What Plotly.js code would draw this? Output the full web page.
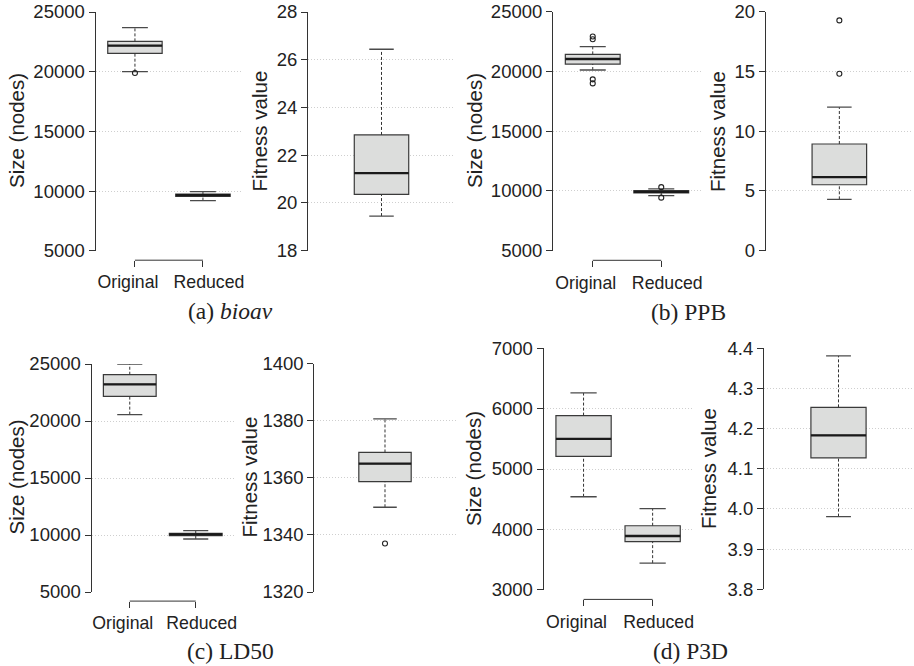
<!DOCTYPE html>
<html><head><meta charset="utf-8">
<script src="https://cdn.plot.ly/plotly-3.0.1.min.js"></script>
<style>html,body{margin:0;padding:0;background:#fff}#chart{width:914px;height:666px}</style>
</head><body><div id="chart"></div>
<script>
const W = 914, H = 666;

// ---------- data (five-number summaries: lower whisker, Q1, median, Q3, upper whisker) ----------
const sizeGroups = ["Original", "Reduced"];

const bioavSizeOriginal = [20000, 21540, 22180, 22540, 23690];
const bioavSizeReduced  = [9200, 9550, 9650, 9750, 9950];
const bioavSizeOriginalOutliers = [19890];
const bioavSizeReducedOutliers  = [];
const bioavFitness = [19.45, 20.36, 21.25, 22.85, 26.44];
const bioavFitnessOutliers = [];

const ppbSizeOriginal = [20120, 20620, 21040, 21430, 22070];
const ppbSizeReduced  = [9610, 9830, 9920, 10020, 10170];
const ppbSizeOriginalOutliers = [22930, 22690, 19340, 19000];
const ppbSizeReducedOutliers  = [10320, 9440];
const ppbFitness = [4.30, 5.52, 6.16, 8.93, 12.02];
const ppbFitnessOutliers = [14.81, 19.27];

const ld50SizeOriginal = [20560, 22160, 23220, 24060, 25000];
const ld50SizeReduced  = [9650, 9950, 10050, 10150, 10380];
const ld50SizeOriginalOutliers = [];
const ld50SizeReducedOutliers  = [];
const ld50Fitness = [1349.7, 1358.7, 1365.0, 1368.9, 1380.7];
const ld50FitnessOutliers = [1337.0];

const p3dSizeOriginal = [4540, 5210, 5500, 5885, 6260];
const p3dSizeReduced  = [3440, 3795, 3890, 4060, 4342];
const p3dSizeOriginalOutliers = [];
const p3dSizeReducedOutliers  = [];
const p3dFitness = [3.981, 4.127, 4.183, 4.253, 4.381];
const p3dFitnessOutliers = [];

// tick values
const sizeTicksLarge = [5000, 10000, 15000, 20000, 25000];
const sizeTicksP3D = [3000, 4000, 5000, 6000, 7000];
const bioavFitTicks = [18, 20, 22, 24, 26, 28];
const ppbFitTicks = [0, 5, 10, 15, 20];
const ld50FitTicks = [1320, 1340, 1360, 1380, 1400];
const p3dFitTicks = [3.8, 3.9, 4.0, 4.1, 4.2, 4.3, 4.4];

const captions = ["(a) <i>bioav</i>", "(b) PPB", "(c) LD50", "(d) P3D"];
const sizeTitle = "Size (nodes)";
const fitTitle = "Fitness value";

// ---------- build ----------
const data = [], annotations = [], shapes = [];
const layout = {
  width: W, height: H, margin: {l: 0, r: 0, t: 0, b: 0},
  paper_bgcolor: '#fff', plot_bgcolor: '#fff', showlegend: false, boxmode: 'overlay',
  font: {family: '"Liberation Sans", Arial, sans-serif', color: '#222', size: 18},
  hovermode: false
};
const fx = p => p / W;
const fy = p => 1 - p / H;
const labelShift = [-7, 6];
let helperAxis = 9;

function panel(n, g, boxes, outs, cats, ticks, fmt, title) {
  const xs = n === 1 ? 'x' : 'x' + n, ys = n === 1 ? 'y' : 'y' + n;
  const xk = n === 1 ? 'xaxis' : 'xaxis' + n, yk = n === 1 ? 'yaxis' : 'yaxis' + n;
  const pos = boxes.map((b, i) => i);
  const pair = boxes.length > 1;
  const bw = pair ? 0.8 : 0.4, cap = pair ? 0.19 : 0.09;
  const yr = [ticks[0], ticks[ticks.length - 1]];
  const xr = pair ? [-0.58, 1.58] : [-0.54, 0.54];

  layout[yk] = {
    domain: [fy(g.yb), fy(g.yt)], anchor: xs, range: yr, tickvals: ticks,
    tickformat: fmt, showline: true, linecolor: '#333', linewidth: 1,
    ticks: 'outside', ticklen: 6, tickcolor: '#333', tickwidth: 1,
    showgrid: true, gridcolor: '#cfcfcf', griddash: '1px,2px', gridwidth: 1,
    zeroline: false, tickfont: {size: 18.5, color: '#222'}, fixedrange: true
  };
  if (pair) {
    layout[xk] = {
      domain: [fx(g.xl), fx(g.xr)], anchor: 'free', position: fy(g.xb),
      range: xr, tickvals: pos, ticktext: cats, showticklabels: false,
      showline: false, showgrid: false, zeroline: false,
      ticks: 'outside', ticklen: 6, tickcolor: '#333', tickwidth: 1, fixedrange: true
    };
    shapes.push({type: 'line', xref: xs, yref: 'paper', x0: pos[0], x1: pos[pos.length - 1],
      y0: fy(g.xb), y1: fy(g.xb), line: {color: '#333', width: 1}});
    // one label axis per category so each label can sit like the original figure
    cats.forEach((c, i) => {
      const hn = helperAxis++;
      layout['xaxis' + hn] = {
        overlaying: xs, anchor: 'free', position: fy(g.xb), range: xr,
        tickvals: [pos[i]], ticktext: [c], tickangle: 0,
        ticks: 'outside', ticklen: 6, tickcolor: 'rgba(0,0,0,0)',
        ticklabelshift: labelShift[i],
        showline: false, showgrid: false, zeroline: false,
        tickfont: {size: 17.7, color: '#222'}, fixedrange: true
      };
      data.push({type: 'scatter', mode: 'markers', xaxis: 'x' + hn, yaxis: ys,
        x: [pos[i]], y: [null], hoverinfo: 'skip', marker: {opacity: 0}});
    });
  } else {
    layout[xk] = {domain: [fx(g.xl), fx(g.xr)], anchor: ys, range: xr,
      visible: false, showgrid: false, zeroline: false, fixedrange: true};
  }

  data.push({
    type: 'box', orientation: 'v', xaxis: xs, yaxis: ys, x: pos,
    q1: boxes.map(b => b[1]), median: boxes.map(b => b[2]), q3: boxes.map(b => b[3]),
    lowerfence: boxes.map(b => b[1]), upperfence: boxes.map(b => b[3]),
    width: bw, whiskerwidth: 0, boxpoints: false,
    fillcolor: '#dcdddc', line: {color: '#3a3a3a', width: 1.2}, hoverinfo: 'skip'
  });
  const wx = [], wy = [], cx = [], cy = [], mx = [], my = [], ox = [], oy = [];
  boxes.forEach((b, i) => {
    wx.push(i, i, null, i, i, null); wy.push(b[0], b[1], null, b[3], b[4], null);
    cx.push(i - cap, i + cap, null, i - cap, i + cap, null); cy.push(b[0], b[0], null, b[4], b[4], null);
    mx.push(i - bw / 2, i + bw / 2, null); my.push(b[2], b[2], null);
    outs[i].forEach(v => { ox.push(i); oy.push(v); });
  });
  data.push({type: 'scatter', mode: 'lines', xaxis: xs, yaxis: ys, x: wx, y: wy,
    line: {color: '#333', width: 1, dash: '3px,2px'}, hoverinfo: 'skip'});
  data.push({type: 'scatter', mode: 'lines', xaxis: xs, yaxis: ys, x: cx, y: cy,
    line: {color: '#4a4a4a', width: 1.3}, hoverinfo: 'skip'});
  data.push({type: 'scatter', mode: 'lines', xaxis: xs, yaxis: ys, x: mx, y: my,
    line: {color: '#1a1a1a', width: 2.3}, hoverinfo: 'skip'});
  if (ox.length) data.push({type: 'scatter', mode: 'markers', xaxis: xs, yaxis: ys, x: ox, y: oy,
    marker: {symbol: 'circle-open', size: 5, color: '#222', line: {width: 1.1}}, hoverinfo: 'skip', cliponaxis: false});

  annotations.push({text: title, xref: 'paper', yref: 'paper', x: fx(g.tx), y: fy(g.ty),
    xanchor: 'center', yanchor: 'middle', showarrow: false, textangle: -90,
    font: {size: 20.5, color: '#222'}});
}

const geo = [
  {xl: 95.5, xr: 242.4, yt: 12, yb: 250.7, xb: 260.2, tx: 16, ty: 131},
  {xl: 308, xr: 455, yt: 12, yb: 250.7, tx: 259, ty: 131.5},
  {xl: 553, xr: 701, yt: 11.7, yb: 250.7, xb: 260.3, tx: 474, ty: 131},
  {xl: 765.7, xr: 913, yt: 11.7, yb: 250.7, tx: 717.5, ty: 131.5},
  {xl: 91.5, xr: 234, yt: 364, yb: 592, xb: 601.1, tx: 16, ty: 477.5},
  {xl: 314.3, xr: 455.7, yt: 363.7, yb: 592, tx: 249, ty: 477.5},
  {xl: 543.5, xr: 692.7, yt: 348.3, yb: 589.7, xb: 599.4, tx: 474, ty: 469},
  {xl: 764, xr: 913, yt: 348.3, yb: 589.3, tx: 709, ty: 469}
];

panel(1, geo[0], [bioavSizeOriginal, bioavSizeReduced], [bioavSizeOriginalOutliers, bioavSizeReducedOutliers], sizeGroups, sizeTicksLarge, 'd', sizeTitle);
panel(2, geo[1], [bioavFitness], [bioavFitnessOutliers], null, bioavFitTicks, 'd', fitTitle);
panel(3, geo[2], [ppbSizeOriginal, ppbSizeReduced], [ppbSizeOriginalOutliers, ppbSizeReducedOutliers], sizeGroups, sizeTicksLarge, 'd', sizeTitle);
panel(4, geo[3], [ppbFitness], [ppbFitnessOutliers], null, ppbFitTicks, 'd', fitTitle);
panel(5, geo[4], [ld50SizeOriginal, ld50SizeReduced], [ld50SizeOriginalOutliers, ld50SizeReducedOutliers], sizeGroups, sizeTicksLarge, 'd', sizeTitle);
panel(6, geo[5], [ld50Fitness], [ld50FitnessOutliers], null, ld50FitTicks, 'd', fitTitle);
panel(7, geo[6], [p3dSizeOriginal, p3dSizeReduced], [p3dSizeOriginalOutliers, p3dSizeReducedOutliers], sizeGroups, sizeTicksP3D, 'd', sizeTitle);
panel(8, geo[7], [p3dFitness], [p3dFitnessOutliers], null, p3dFitTicks, '.1f', fitTitle);

const capPos = [[230.5, 311], [688, 312], [230.5, 651], [690, 651]];
captions.forEach((c, i) => annotations.push({
  text: c, xref: 'paper', yref: 'paper', x: fx(capPos[i][0]), y: fy(capPos[i][1]),
  xanchor: 'center', yanchor: 'middle', showarrow: false,
  font: {family: '"Liberation Serif", "DejaVu Serif", serif', size: 23.5, color: '#222'}
}));

layout.annotations = annotations;
layout.shapes = shapes;
Plotly.newPlot('chart', data, layout, {staticPlot: true, displayModeBar: false});
</script></body></html>
